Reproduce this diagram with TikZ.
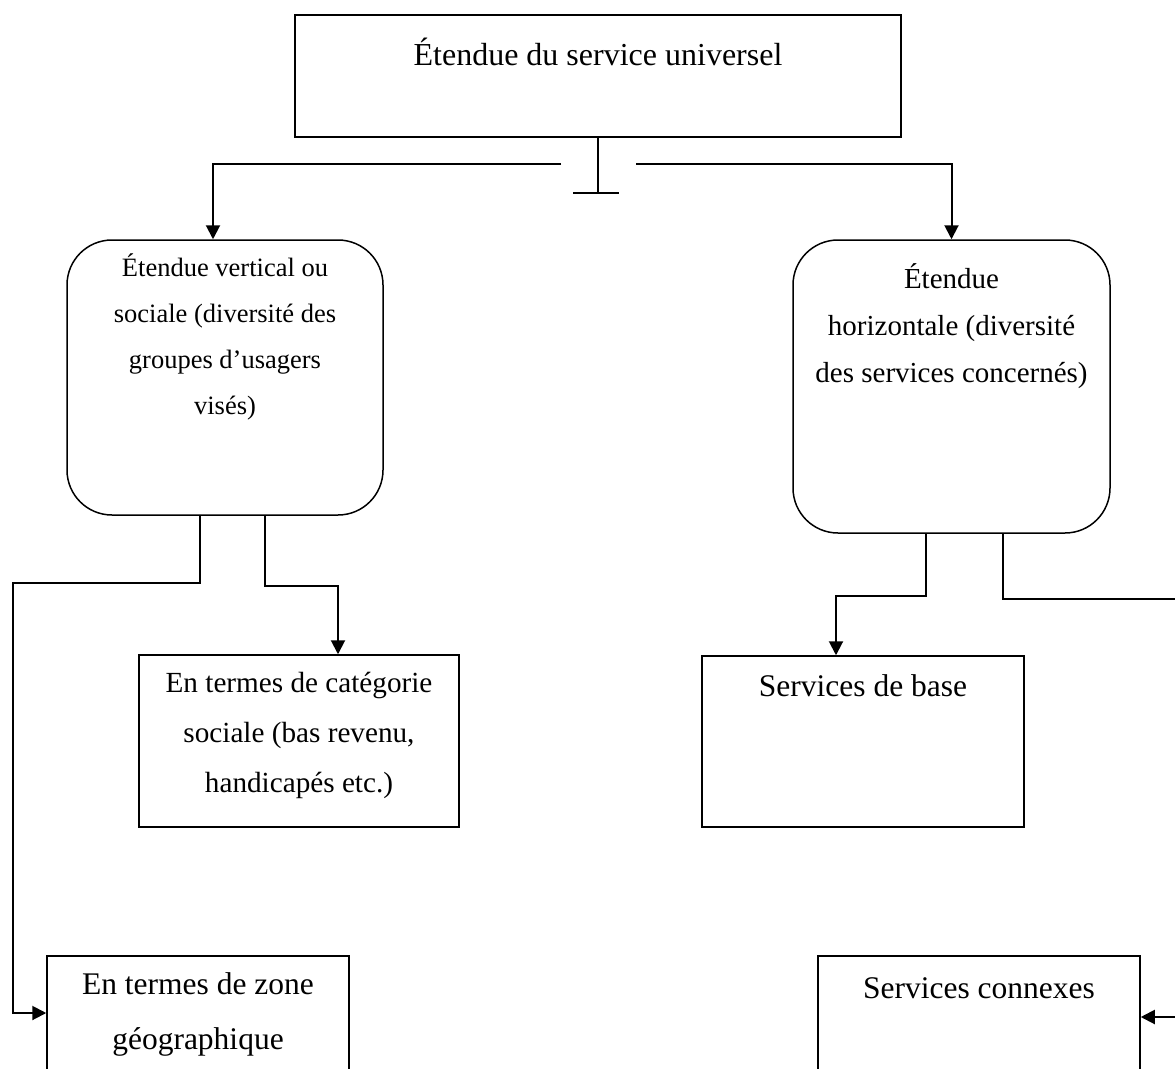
\documentclass[tikz,border=0pt]{standalone}
\usepackage{fontspec}
\setmainfont{Liberation Serif}
\usetikzlibrary{arrows.meta, positioning}
\tikzset{
x=1pt, y=-1pt, % one unit is one pixel of the page, y runs downwards
>={Triangle[length=14pt, width=14pt]}, % filled arrow heads
box/.style={draw, rectangle, line width=1.5pt, inner sep=0pt}, % plain frame
roundbox/.style={box, rounded corners=45pt}, % frame with round corners
arr/.style={->, line width=2pt}, % connectors between the frames
txt/.style={align=center, anchor=base, inner sep=0pt}, % text inside a frame, base = last line
big/.style={font=\fontsize{31.5}{55}\selectfont},
mid/.style={font=\fontsize{29.2}{50}\selectfont},
small/.style={font=\fontsize{26.5}{46}\selectfont},
}

\begin{document}
\begin{tikzpicture}
    \useasboundingbox (0,0) rectangle (1175,1068);
    \clip (0,0) rectangle (1175,1068);
    % frames
    \node[box, minimum width=606pt, minimum height=122pt] (top) at (598,76) {};
    \node[roundbox, minimum width=316pt, minimum height=275pt] (vert) at (225,377.5) {};
    \node[roundbox, minimum width=317pt, minimum height=293pt] (horiz) at (951.5,386.5) {};
    \node[box, minimum width=320pt, minimum height=172pt] (cat) at (299,741) {};
    \node[box, minimum width=322pt, minimum height=171pt] (base) at (863,741.5) {};
    \node[box, minimum width=302pt, minimum height=144pt] (zone) at (198,1028) {};
    \node[box, minimum width=322pt, minimum height=144pt] (connexes) at (979,1028) {};
    % texts
    \node[txt, font=\fontsize{32}{37}\selectfont] (topT) at ([yshift=-51pt]top.north) {Étendue du service universel};
    \node[txt, small] (vertT) at ([yshift=-175pt]vert.north) {Étendue vertical ou\\sociale (diversité des\\groupes d’usagers\\visés)};
    \node[txt, font=\fontsize{29}{47}\selectfont] (horizT) at ([yshift=-143pt]horiz.north) {Étendue\\horizontale (diversité\\des services concernés)};
    \node[txt, mid] (catT) at ([yshift=-138pt]cat.north) {En termes de catégorie\\sociale (bas revenu,\\handicapés etc.)};
    \node[txt, big] (baseT) at ([yshift=-41pt]base.north) {Services de base};
    \node[txt, big] (zoneT) at ([yshift=-94pt]zone.north) {En termes de zone\\géographique};
    \node[txt, big] (connexesT) at ([yshift=-43pt]connexes.north) {Services connexes};
    % the T below the top frame
    \coordinate (stem) at (598,193);
    \coordinate (jl) at (561,164);
    \coordinate (jr) at (636,164);
    \draw[line width=2pt] (top.south) -- (stem);
    \draw[line width=2pt] ([xshift=-25pt]stem) -- ([xshift=21pt]stem);
    \draw[arr] (jl) -| ([xshift=-12pt]vert.north);
    \draw[arr] (jr) -| (horiz.north);
    % left branch
    \coordinate (zoneIn) at (13,1013);
    \draw[arr] ([xshift=-25pt]vert.south) -- ++(0,67) -| (zoneIn) -- (zoneIn -| zone.west);
    \draw[arr] ([xshift=40pt]vert.south) -- ++(0,70) -| ([xshift=39pt]cat.north);
    % right branch
    \coordinate (offR) at (1190,1017);
    \draw[arr] ([xshift=-25.5pt]horiz.south) -- ++(0,62) -| ([xshift=-27pt]base.north);
    \draw[arr] ([xshift=51.5pt]horiz.south) -- ++(0,65) -| (offR) -- (offR -| connexes.east);
\end{tikzpicture}
\end{document}
